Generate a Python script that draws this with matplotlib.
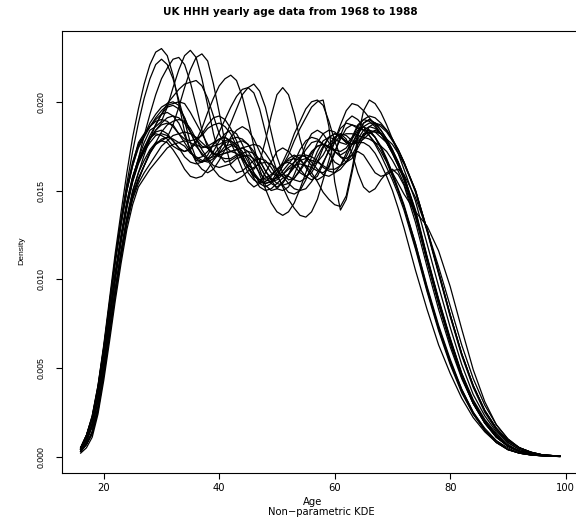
import matplotlib.pyplot as plt

# ages the densities were read at (yearly where the curves bend, 2-yearly in the tail)
ages = [16, 17, 18, 19, 20, 21,
        22, 23, 24, 25, 26, 27, 28, 29, 30, 31, 32, 33, 34, 35, 36, 37, 38, 39, 40, 41, 42, 43, 44, 45, 46, 47,
        48, 49, 50, 51, 52, 53, 54, 55, 56, 57, 58, 59, 60, 61, 62, 63, 64, 65, 66, 67, 68, 69, 70, 71, 72,
        74, 76, 78, 80, 82, 84, 86, 88, 90, 92, 94, 96, 99]

# KDE density of head-of-household age, one curve per year
kde_1968 = [.0005, .0012, .0023, .0040, .0063, .0089, .0115, .0138, .0160, .0180, .0196, .0210,
            .0221, .0228, .0230, .0226, .0215, .0199, .0183, .0172, .0168, .0169,
            .0172, .0176, .0179, .0180, .0178, .0174, .0167, .0160, .0156, .0154,
            .0155, .0158, .0162, .0165, .0166, .0164, .0160, .0158, .0160, .0166,
            .0174, .0180, .0182, .0181, .0177, .0176, .0179, .0184, .0186, .0185,
            .0182, .0178, .0172, .0166, .0158,
            .0138, .0112, .0088, .0066, .0046, .0031, .0020, .0012, .0006, .0003, .00015, .00008, .00002]
kde_1969 = [.0004, .0009, .0018, .0033, .0054, .0078, .0102, .0123, .0142, .0157, .0168, .0177,
            .0184, .0186, .0189, .0197, .0208, .0218, .0226, .0229, .0225, .0213,
            .0198, .0182, .0170, .0166, .0167, .0169, .0171, .0172, .0171, .0167,
            .0161, .0156, .0151, .0150, .0152, .0159, .0167, .0176, .0182, .0184,
            .0182, .0177, .0172, .0170, .0172, .0176, .0182, .0186, .0188, .0188,
            .0186, .0183, .0178, .0173, .0166,
            .0150, .0128, .0104, .0080, .0058, .0040, .0026, .0016, .0009, .0005, .00025, .0001, .00003]
kde_1970 = [.0003, .0007, .0014, .0028, .0048, .0071, .0094, .0115, .0134, .0149, .0160, .0167,
            .0173, .0177, .0178, .0180, .0187, .0197, .0208, .0218, .0225, .0227,
            .0223, .0210, .0194, .0177, .0164, .0160, .0161, .0164, .0167, .0168,
            .0167, .0163, .0158, .0153, .0149, .0148, .0150, .0156, .0164, .0172,
            .0178, .0180, .0179, .0177, .0176, .0180, .0187, .0190, .0189, .0186,
            .0182, .0177, .0171, .0164, .0156,
            .0136, .0110, .0086, .0064, .0045, .0030, .0019, .0011, .0006, .0003, .00014, .00007, .00002]
kde_1971 = [.0005, .0012, .0022, .0039, .0061, .0086, .0112, .0134, .0154, .0172, .0188, .0202,
            .0213, .0221, .0224, .0221, .0213, .0201, .0189, .0177, .0168, .0166,
            .0168, .0172, .0178, .0182, .0184, .0182, .0176, .0168, .0160, .0154,
            .0152, .0154, .0158, .0164, .0168, .0170, .0168, .0163, .0158, .0156,
            .0158, .0164, .0172, .0179, .0185, .0187, .0186, .0184, .0181, .0177,
            .0172, .0166, .0158, .0150, .0141,
            .0118, .0094, .0072, .0053, .0037, .0024, .0015, .0008, .0004, .0002, .0001, .00005, .00001]
kde_1972 = [.0004, .0009, .0018, .0033, .0054, .0078, .0102, .0123, .0142, .0157, .0168, .0181,
            .0193, .0204, .0213, .0219, .0224, .0225, .0221, .0211, .0198, .0184,
            .0174, .0170, .0171, .0173, .0175, .0177, .0178, .0176, .0170, .0164,
            .0158, .0156, .0157, .0161, .0165, .0169, .0170, .0169, .0166, .0162,
            .0159, .0158, .0160, .0164, .0171, .0179, .0186, .0190, .0192, .0191,
            .0188, .0184, .0179, .0173, .0166,
            .0149, .0127, .0103, .0079, .0057, .0039, .0025, .0015, .0008, .0004, .0002, .0001, .00003]
kde_1973 = [.0004, .0009, .0017, .0032, .0053, .0077, .0101, .0122, .0141, .0155, .0166, .0174,
            .0180, .0182, .0181, .0179, .0175, .0173, .0172, .0174, .0178, .0185,
            .0194, .0202, .0209, .0213, .0215, .0212, .0203, .0190, .0175, .0162,
            .0153, .0150, .0151, .0155, .0159, .0164, .0167, .0168, .0167, .0166,
            .0164, .0162, .0162, .0164, .0169, .0176, .0183, .0188, .0190, .0188,
            .0184, .0179, .0173, .0166, .0158,
            .0138, .0112, .0088, .0066, .0046, .0031, .0020, .0012, .0006, .0003, .00015, .00008, .00002]
kde_1974 = [.0003, .0007, .0013, .0027, .0047, .0070, .0093, .0114, .0133, .0147, .0157, .0164,
            .0171, .0176, .0179, .0180, .0179, .0177, .0175, .0171, .0169, .0167,
            .0166, .0168, .0172, .0180, .0188, .0196, .0204, .0208, .0210, .0206,
            .0197, .0183, .0169, .0160, .0156, .0157, .0161, .0166, .0171, .0175,
            .0176, .0175, .0172, .0169, .0168, .0170, .0176, .0182, .0184, .0180,
            .0174, .0167, .0159, .0150, .0141,
            .0120, .0096, .0074, .0055, .0038, .0025, .0015, .0009, .0005, .0002, .0001, .00005, .00001]
kde_1975 = [.0005, .0012, .0022, .0038, .0060, .0085, .0110, .0131, .0150, .0165, .0177, .0182,
            .0186, .0189, .0190, .0189, .0186, .0182, .0179, .0178, .0179, .0181,
            .0185, .0187, .0188, .0186, .0182, .0175, .0168, .0164, .0162, .0166,
            .0178, .0192, .0204, .0208, .0204, .0193, .0179, .0168, .0164, .0166,
            .0170, .0176, .0180, .0182, .0181, .0178, .0177, .0179, .0182, .0184,
            .0182, .0178, .0172, .0165, .0157,
            .0137, .0111, .0087, .0065, .0045, .0030, .0019, .0011, .0006, .0003, .00015, .00007, .00002]
kde_1976 = [.0004, .0009, .0018, .0033, .0054, .0078, .0102, .0123, .0142, .0156, .0166, .0173,
            .0179, .0184, .0187, .0188, .0187, .0182, .0177, .0172, .0167, .0166,
            .0167, .0170, .0174, .0177, .0178, .0176, .0172, .0166, .0160, .0156,
            .0154, .0155, .0160, .0166, .0173, .0182, .0189, .0196, .0200, .0201,
            .0198, .0189, .0178, .0169, .0166, .0168, .0174, .0180, .0186, .0188,
            .0187, .0184, .0179, .0173, .0166,
            .0150, .0128, .0104, .0080, .0058, .0040, .0026, .0016, .0009, .0005, .00025, .0001, .00003]
kde_1977 = [.0003, .0007, .0014, .0028, .0048, .0071, .0094, .0115, .0134, .0148, .0156, .0164,
            .0171, .0177, .0183, .0187, .0189, .0190, .0189, .0185, .0179, .0173,
            .0168, .0164, .0163, .0164, .0165, .0168, .0169, .0170, .0168, .0164,
            .0158, .0154, .0152, .0154, .0159, .0166, .0173, .0178, .0180, .0179,
            .0176, .0174, .0178, .0187, .0195, .0199, .0198, .0195, .0191, .0187,
            .0182, .0177, .0171, .0164, .0157,
            .0137, .0112, .0088, .0066, .0047, .0032, .0021, .0013, .0007, .0003, .00016, .00008, .00002]
kde_1978 = [.0004, .0009, .0018, .0033, .0055, .0079, .0103, .0124, .0143, .0157, .0167, .0174,
            .0179, .0183, .0184, .0182, .0178, .0174, .0172, .0173, .0177, .0182,
            .0187, .0191, .0192, .0190, .0185, .0178, .0170, .0163, .0158, .0156,
            .0157, .0159, .0162, .0165, .0167, .0168, .0167, .0164, .0160, .0155,
            .0149, .0145, .0142, .0141, .0147, .0162, .0180, .0195, .0201, .0199,
            .0194, .0187, .0179, .0171, .0162,
            .0144, .0120, .0096, .0073, .0052, .0035, .0023, .0014, .0008, .0004, .0002, .0001, .00002]
kde_1979 = [.0003, .0007, .0013, .0026, .0046, .0069, .0092, .0113, .0132, .0146, .0156, .0164,
            .0172, .0176, .0178, .0177, .0173, .0168, .0162, .0158, .0157, .0158,
            .0162, .0167, .0171, .0175, .0176, .0174, .0170, .0163, .0157, .0152,
            .0150, .0151, .0154, .0157, .0158, .0156, .0155, .0157, .0162, .0169,
            .0175, .0180, .0182, .0180, .0178, .0176, .0177, .0177, .0175, .0171,
            .0165, .0158, .0150, .0140, .0129,
            .0105, .0083, .0063, .0047, .0033, .0022, .0014, .0008, .0004, .0002, .0001, .00004, .00001]
kde_1980 = [.0002, .0005, .0011, .0024, .0043, .0065, .0088, .0109, .0128, .0142, .0152, .0157,
            .0162, .0166, .0170, .0174, .0176, .0177, .0178, .0177, .0175, .0171,
            .0167, .0162, .0158, .0156, .0155, .0156, .0158, .0161, .0163, .0165,
            .0166, .0165, .0162, .0158, .0154, .0151, .0150, .0151, .0155, .0160,
            .0166, .0172, .0177, .0181, .0182, .0182, .0181, .0180, .0179, .0177,
            .0175, .0172, .0167, .0161, .0154,
            .0135, .0111, .0087, .0065, .0046, .0031, .0020, .0012, .0006, .0003, .00015, .00008, .00002]
kde_1981 = [.0005, .0012, .0023, .0040, .0062, .0087, .0112, .0133, .0152, .0166, .0176, .0181,
            .0186, .0191, .0195, .0198, .0199, .0200, .0199, .0194, .0188, .0182,
            .0176, .0171, .0170, .0171, .0172, .0173, .0174, .0172, .0167, .0159,
            .0151, .0143, .0138, .0136, .0138, .0143, .0151, .0160, .0169, .0177,
            .0182, .0184, .0183, .0180, .0177, .0176, .0178, .0181, .0183, .0180,
            .0175, .0168, .0160, .0151, .0142,
            .0120, .0095, .0073, .0054, .0038, .0025, .0016, .0009, .0004, .0002, .0001, .00005, .00001]
kde_1982 = [.0004, .0010, .0019, .0035, .0056, .0080, .0104, .0125, .0144, .0158, .0167, .0174,
            .0181, .0187, .0193, .0199, .0203, .0207, .0210, .0211, .0212, .0209,
            .0202, .0192, .0182, .0175, .0172, .0173, .0174, .0175, .0176, .0175,
            .0171, .0166, .0159, .0152, .0145, .0140, .0136, .0135, .0138, .0145,
            .0156, .0167, .0178, .0185, .0188, .0187, .0185, .0184, .0184, .0183,
            .0180, .0177, .0171, .0165, .0157,
            .0137, .0111, .0087, .0065, .0045, .0030, .0019, .0011, .0006, .0003, .00014, .00007, .00002]
kde_1983 = [.0003, .0007, .0013, .0026, .0046, .0068, .0091, .0112, .0131, .0145, .0154, .0160,
            .0165, .0170, .0175, .0178, .0181, .0182, .0183, .0182, .0180, .0177,
            .0174, .0171, .0169, .0168, .0168, .0170, .0170, .0169, .0165, .0160,
            .0156, .0155, .0156, .0159, .0163, .0166, .0169, .0170, .0169, .0167,
            .0163, .0161, .0160, .0162, .0166, .0170, .0172, .0170, .0165, .0160,
            .0158, .0159, .0161, .0162, .0159,
            .0146, .0128, .0107, .0085, .0063, .0044, .0029, .0018, .0010, .0005, .00025, .0001, .00003]
kde_1984 = [.0004, .0009, .0017, .0032, .0053, .0076, .0100, .0121, .0140, .0155, .0165, .0172,
            .0179, .0184, .0188, .0191, .0192, .0191, .0188, .0183, .0179, .0175,
            .0174, .0175, .0176, .0178, .0179, .0180, .0179, .0176, .0172, .0167,
            .0161, .0157, .0154, .0153, .0154, .0157, .0162, .0167, .0172, .0175,
            .0176, .0175, .0173, .0172, .0174, .0179, .0184, .0186, .0184, .0180,
            .0174, .0167, .0160, .0154, .0148,
            .0138, .0130, .0116, .0096, .0072, .0049, .0031, .0018, .0010, .0005, .00025, .0001, .00003]
kde_1985 = [.0005, .0011, .0021, .0038, .0060, .0085, .0110, .0131, .0150, .0164, .0175, .0181,
            .0188, .0193, .0197, .0199, .0200, .0198, .0191, .0183, .0176, .0174,
            .0175, .0177, .0179, .0180, .0177, .0170, .0162, .0155, .0152, .0154,
            .0160, .0166, .0172, .0174, .0172, .0168, .0162, .0158, .0156, .0158,
            .0165, .0173, .0180, .0182, .0179, .0171, .0160, .0152, .0149, .0151,
            .0156, .0160, .0162, .0159, .0153,
            .0132, .0107, .0083, .0062, .0044, .0030, .0019, .0011, .0006, .0003, .00014, .00007, .00002]
kde_1986 = [.0004, .0009, .0018, .0033, .0054, .0078, .0102, .0123, .0142, .0156, .0166, .0172,
            .0177, .0181, .0182, .0181, .0178, .0174, .0169, .0166, .0165, .0166,
            .0170, .0176, .0183, .0190, .0197, .0203, .0207, .0208, .0205, .0196,
            .0183, .0171, .0161, .0158, .0159, .0163, .0168, .0173, .0177, .0178,
            .0176, .0171, .0166, .0164, .0166, .0173, .0181, .0188, .0190, .0188,
            .0184, .0179, .0173, .0166, .0158,
            .0139, .0113, .0089, .0067, .0047, .0031, .0020, .0012, .0006, .0003, .00015, .00008, .00002]
kde_1987 = [.0005, .0012, .0022, .0039, .0061, .0086, .0111, .0132, .0150, .0164, .0174, .0180,
            .0186, .0190, .0193, .0194, .0192, .0188, .0181, .0173, .0166, .0162,
            .0160, .0162, .0167, .0173, .0180, .0184, .0186, .0184, .0179, .0172,
            .0165, .0160, .0158, .0159, .0162, .0164, .0165, .0164, .0163, .0161,
            .0160, .0163, .0171, .0181, .0189, .0192, .0190, .0186, .0181, .0176,
            .0170, .0163, .0156, .0148, .0139,
            .0117, .0093, .0071, .0052, .0036, .0024, .0015, .0008, .0004, .0002, .0001, .00005, .00001]
kde_1988 = [.0003, .0007, .0014, .0028, .0048, .0072, .0095, .0116, .0135, .0150, .0160, .0170,
            .0179, .0187, .0193, .0197, .0198, .0196, .0191, .0183, .0176, .0170,
            .0168, .0169, .0170, .0171, .0172, .0171, .0168, .0163, .0159, .0155,
            .0154, .0155, .0158, .0164, .0170, .0178, .0185, .0191, .0197, .0200,
            .0201, .0186, .0155, .0139, .0145, .0160, .0176, .0182, .0183, .0183,
            .0182, .0179, .0176, .0171, .0165,
            .0150, .0128, .0104, .0080, .0058, .0040, .0026, .0016, .0009, .0005, .00025, .0001, .00003]

curves = [kde_1968, kde_1969, kde_1970, kde_1971, kde_1972, kde_1973, kde_1974,
          kde_1975, kde_1976, kde_1977, kde_1978, kde_1979, kde_1980, kde_1981,
          kde_1982, kde_1983, kde_1984, kde_1985, kde_1986, kde_1987, kde_1988]

xticks = [20, 40, 60, 80, 100]
yticks = [0.000, 0.005, 0.010, 0.015, 0.020]
ytick_labels = ["0.000", "0.005", "0.010", "0.015", "0.020"]

W, H = 576, 520
fig = plt.figure(figsize=(W / 100, H / 100), dpi=100)
# plot box runs a little past the right edge, as in the (cropped) original
ax = fig.add_axes([61.5 / W, 1 - 473 / H, (579 - 61.5) / W, (473 - 31) / H])

for c in curves:
    ax.plot(ages, c, color='black', linewidth=0.9)

ax.set_xlim(12.68, 102.32)
ax.set_ylim(-0.00092, 0.02399)

for s in ax.spines.values():
    s.set_linewidth(0.8)
    s.set_color('black')

ax.set_xticks(xticks)
ax.set_xticklabels([str(t) for t in xticks], family='DejaVu Sans', fontsize=7.2)
ax.set_yticks(yticks)
ax.set_yticklabels(ytick_labels, family='Liberation Sans', fontsize=6.3, rotation=90, va='center')
ax.tick_params(axis='x', length=4.5, width=0.8, pad=2.5)
ax.tick_params(axis='y', length=4.5, width=0.8, pad=7)

fig.text(290 / W, 1 - 12 / H, "UK HHH yearly age data from 1968 to 1988",
         ha='center', va='center', fontsize=7.45, fontweight='bold', family='DejaVu Sans')
fig.text(313 / W, 1 - 502 / H, "Age", ha='center', va='center', fontsize=7.2, family='DejaVu Sans')
fig.text(321 / W, 1 - 512 / H, "Non\u2212parametric KDE", ha='center', va='center',
         fontsize=7.2, family='DejaVu Sans')
fig.text(22 / W, 1 - 251 / H, "Density", ha='center', va='center', rotation=90,
         fontsize=6.1, family='Liberation Sans')

fig.savefig("out.png", dpi=100)
